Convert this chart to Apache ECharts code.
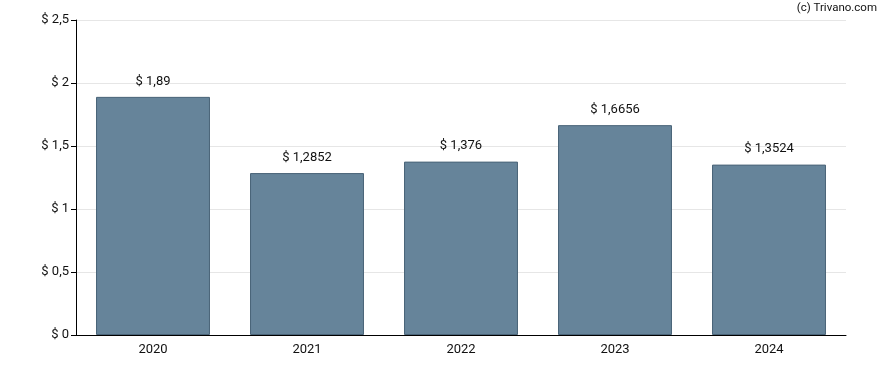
<!DOCTYPE html>
<html><head><meta charset="utf-8">
<script src="https://cdn.jsdelivr.net/npm/echarts@6/dist/echarts.min.js"></script>
<style>html,body{margin:0;padding:0;background:#fff}#c{width:888px;height:370px}</style>
</head><body><div id="c"></div>
<script>
const categories = ['2020','2021','2022','2023','2024'];
const values = [1.89, 1.2852, 1.376, 1.6656, 1.3524];
const yTicks = [0, 0.5, 1, 1.5, 2, 2.5];

const fmt = v => '$ ' + String(v).replace('.', ',');
const chart = echarts.init(document.getElementById('c'), null, {renderer:'canvas'});
chart.setOption({
  animation: false,
  textStyle: {fontFamily: 'Roboto'},
  graphic: [{type:'text', right: 11, top: 2, style:{text:'(c) Trivano.com', fill:'#111', font:'11.5px Roboto'}}],
  grid: {left: 76, right: 42, top: 20, bottom: 35},
  xAxis: {
    type: 'category', data: categories,
    axisLine: {lineStyle: {color: '#000', width: 1}},
    axisTick: {alignWithLabel: true, length: 5, lineStyle:{color:'#000'}},
    axisLabel: {color: '#111', fontSize: 13, margin: 8}
  },
  yAxis: {
    type: 'value', min: yTicks[0], max: yTicks[yTicks.length-1], interval: 0.5,
    axisLine: {show: true, lineStyle: {color: '#000'}},
    axisTick: {show: true, length: 5, lineStyle:{color:'#000'}},
    axisLabel: {color: '#111', fontSize: 13, margin: 7, formatter: v => fmt(v)},
    splitLine: {lineStyle: {color: '#e6e6e6'}}
  },
  series: [{
    type: 'bar', data: values, barCategoryGap: '26%',
    itemStyle: {color: '#66849a', borderColor: '#4a6478', borderWidth: 1},
    label: {show: true, position: 'top', distance: 9, color: '#111', fontSize: 13, formatter: p => fmt(p.value)}
  }]
});
</script></body></html>
